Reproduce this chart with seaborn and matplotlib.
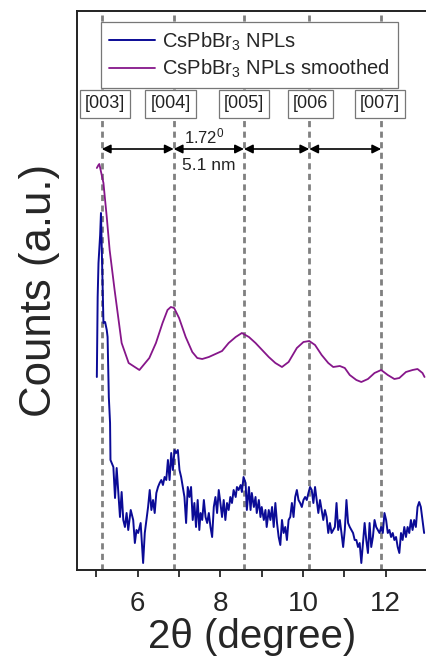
import matplotlib
matplotlib.use("Agg")
import matplotlib.pyplot as plt
import seaborn as sns
import pandas as pd

# ---------------- data ----------------
raw_x = [5.01, 5.03, 5.05, 5.09, 5.11, 5.14, 5.17, 5.21, 5.25, 5.27, 5.30, 5.33, 5.34,
         5.41, 5.45, 5.49, 5.53, 5.57, 5.61, 5.65, 5.69, 5.73, 5.77, 5.83, 5.89, 5.93,
         5.97, 6.01, 6.07, 6.13, 6.17, 6.21, 6.25, 6.29, 6.33, 6.37, 6.41, 6.45, 6.49,
         6.53, 6.57, 6.61, 6.65, 6.69, 6.73, 6.77, 6.81, 6.85, 6.89, 6.93, 6.97, 7.01,
         7.05, 7.09, 7.13, 7.17, 7.21, 7.25, 7.29, 7.33, 7.37, 7.41, 7.45, 7.49, 7.52,
         7.56, 7.60, 7.64, 7.68, 7.72, 7.76, 7.80, 7.84, 7.88, 7.92, 7.96, 8.00, 8.04,
         8.08, 8.12, 8.16, 8.20, 8.24, 8.28, 8.32, 8.37, 8.40, 8.44, 8.49, 8.52, 8.56,
         8.61, 8.64, 8.69, 8.73, 8.76, 8.81, 8.85, 8.88, 8.93, 8.97, 9.00, 9.05, 9.09,
         9.12, 9.17, 9.21, 9.25, 9.29, 9.33, 9.37, 9.41, 9.45, 9.49, 9.53, 9.57, 9.61,
         9.65, 9.69, 9.73, 9.77, 9.81, 9.85, 9.89, 9.93, 9.97, 10.01, 10.05, 10.09,
         10.13, 10.17, 10.21, 10.25, 10.29, 10.33, 10.37, 10.41, 10.45, 10.49, 10.53,
         10.57, 10.61, 10.65, 10.69, 10.73, 10.77, 10.81, 10.85, 10.89, 10.93, 10.97,
         11.01, 11.05, 11.09, 11.13, 11.17, 11.21, 11.25, 11.29, 11.33, 11.37, 11.41,
         11.45, 11.49, 11.53, 11.57, 11.61, 11.65, 11.69, 11.73, 11.77, 11.81, 11.85,
         11.89, 11.93, 11.97, 12.01, 12.05, 12.09, 12.13, 12.17, 12.21, 12.25, 12.29,
         12.33, 12.37, 12.41, 12.45, 12.49, 12.53, 12.57, 12.61, 12.65, 12.69, 12.73,
         12.77, 12.81, 12.85, 12.89, 12.93]
raw_y = [193, 273, 307, 335, 357, 303, 247, 248, 240, 233, 173, 147, 110,
         103, 72, 102, 77, 53, 78, 50, 43, 57, 40, 60, 50, 27,
         40, 37, 47, 7, 37, 50, 63, 80, 60, 70, 57, 77, 83,
         87, 90, 85, 93, 90, 110, 90, 117, 100, 120, 117, 120, 100,
         93, 83, 73, 47, 83, 73, 83, 50, 67, 43, 70, 40, 57,
         50, 70, 53, 47, 57, 43, 33, 63, 73, 57, 80, 67, 53,
         70, 50, 67, 60, 73, 67, 80, 73, 83, 80, 85, 78, 93,
         87, 60, 83, 60, 77, 63, 73, 57, 70, 53, 63, 50, 60,
         43, 60, 50, 63, 43, 67, 47, 33, 25, 50, 37, 43, 30,
         50, 53, 67, 53, 73, 80, 70, 67, 63, 70, 73, 70,
         77, 83, 80, 67, 83, 70, 57, 70, 60, 50, 60,
         53, 37, 47, 37, 40, 43, 67, 40, 50, 37, 23,
         40, 70, 47, 43, 40, 37, 30, 30, 23, 27, 7,
         27, 47, 30, 17, 47, 23, 33, 50, 43, 40, 37,
         43, 37, 57, 50, 37, 40, 33, 37, 30, 33, 23,
         17, 37, 30, 43, 33, 43, 37, 50, 40, 50, 43,
         63, 68, 63, 50, 37]

smooth_x = [5.01, 5.05, 5.07, 5.17, 5.25, 5.32, 5.44, 5.61, 5.78, 6.04, 6.28, 6.44,
            6.60, 6.72, 6.80, 6.88, 7.00, 7.16, 7.32, 7.44, 7.56, 7.72, 7.88, 8.04,
            8.20, 8.37, 8.52, 8.69, 8.85, 9.01, 9.17, 9.33, 9.49, 9.65, 9.85, 10.01,
            10.15, 10.29, 10.45, 10.61, 10.73, 10.89, 11.01, 11.13, 11.29, 11.41,
            11.57, 11.73, 11.89, 12.05, 12.21, 12.33, 12.49, 12.65, 12.77, 12.89, 12.94]
smooth_y = [402, 405, 406, 387, 353, 320, 280, 227, 207, 200, 212, 227,
            247, 260, 263, 262, 252, 233, 218, 212, 211, 213, 216, 219,
            227, 233, 237, 233, 227, 220, 213, 207, 203, 208, 222, 228,
            229, 225, 215, 207, 203, 204, 202, 195, 190, 188,
            191, 197, 200, 195, 191, 192, 198, 200, 201, 197, 193]

peak_pos = [5.13, 6.87, 8.57, 10.15, 11.89]
peak_labels = ["[003]", "[004]", "[005]", "[006", "[007]"]
label_x = [5.20, 6.79, 8.57, 10.18, 11.86]
series_names = ["CsPbBr$_3$ NPLs", "CsPbBr$_3$ NPLs smoothed"]
xticks = [6, 8, 10, 12]

# ---------------- style ----------------
sns.set_theme(style="white")
plt.rcParams["font.family"] = ["Liberation Sans", "DejaVu Sans"]
plt.rcParams["mathtext.default"] = "regular"

fig = plt.figure(figsize=(4.27, 6.62), dpi=100)
ax = fig.add_axes([77 / 427, 1 - 570 / 662, 1 - 77 / 427 + 0.002, (570 - 11) / 662])

blue = "#0b0b96"
purple = "#86168a"

for xp in peak_pos:
    ax.axvline(xp, color="#808080", lw=2.0, ls=(0, (2.2, 1.6)), zorder=1)

df_raw = pd.DataFrame({"x": raw_x, "y": raw_y})
df_sm = pd.DataFrame({"x": smooth_x, "y": smooth_y})
sns.lineplot(data=df_raw, x="x", y="y", ax=ax, color=blue, lw=1.4, sort=False,
             estimator=None, label=series_names[0], zorder=3)
sns.lineplot(data=df_sm, x="x", y="y", ax=ax, color=purple, lw=1.3, sort=False,
             estimator=None, label=series_names[1], zorder=3)

ax.set_xlim(4.53, 13.02)
ax.set_ylim(0, 559)

# boxed Miller indices
for lx, lab in zip(label_x, peak_labels):
    ax.text(lx, 466, lab, ha="center", va="center", fontsize=13, color="#222222",
            bbox=dict(boxstyle="square,pad=0.28", fc="white", ec="#777777", lw=0.9),
            zorder=4)

# double arrows
for a, b in zip(peak_pos[:-1], peak_pos[1:]):
    ax.annotate("", xy=(b, 421), xytext=(a, 421),
                arrowprops=dict(arrowstyle="<|-|>", color="black", lw=1.2,
                                mutation_scale=13, shrinkA=0, shrinkB=0),
                zorder=4)
ax.text(7.60, 434, "1.72$^0$", ha="center", va="center", fontsize=12, color="#222222")
ax.text(7.72, 404, "5.1 nm", ha="center", va="center", fontsize=12.5, color="#222222")

# legend
leg = ax.legend(loc="upper left", bbox_to_anchor=(0.0686, 0.980), borderaxespad=0,
                fontsize=14.5, frameon=True, fancybox=False, framealpha=1,
                edgecolor="#777777", handlelength=2.3, handletextpad=0.35,
                borderpad=0.4, labelspacing=0.25)
leg.get_frame().set_linewidth(0.9)
leg.set_zorder(5)

# axes styling
ax.set_xticks(xticks)
ax.set_xticks([5, 7, 9, 11, 13], minor=True)
ax.set_yticks([])
ax.tick_params(axis="x", which="major", direction="out", length=5, width=1.3,
               labelsize=20, bottom=True, pad=10)
ax.tick_params(axis="x", which="minor", direction="out", length=5, width=1.3, bottom=True)
for s in ["left", "bottom", "top"]:
    ax.spines[s].set_color("#222222")
    ax.spines[s].set_linewidth(1.4)
ax.spines["right"].set_visible(False)
ax.set_xlabel("2θ (degree)", fontsize=29, labelpad=1)
ax.set_ylabel("Counts (a.u.)", fontsize=31.5, labelpad=12)

fig.savefig("out.png", dpi=100)
